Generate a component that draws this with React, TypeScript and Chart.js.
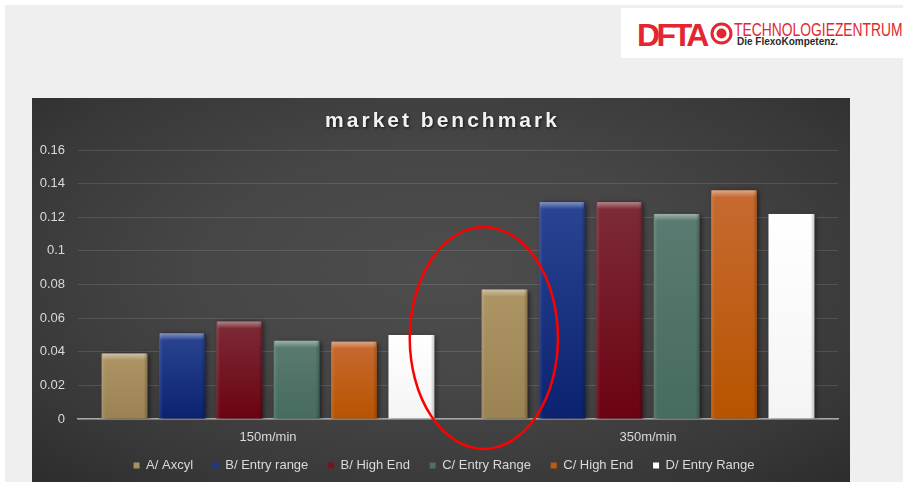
import React, { useEffect, useRef } from "react";
import { Chart, registerables } from "chart.js";

Chart.register(...registerables);

// ---------- data ----------
const chartTitle = "market benchmark";
const categories = ["150m/min", "350m/min"];
const seriesNames = [
  "A/ Axcyl",
  "B/ Entry range",
  "B/ High End",
  "C/ Entry Range",
  "C/ High End",
  "D/ Entry Range",
];
const axcyl = [0.039, 0.077];
const bEntryRange = [0.051, 0.129];
const bHighEnd = [0.058, 0.129];
const cEntryRange = [0.0465, 0.122];
const cHighEnd = [0.046, 0.136];
const dEntryRange = [0.05, 0.122];
const yTickValues = [0, 0.02, 0.04, 0.06, 0.08, 0.1, 0.12, 0.14, 0.16];
const seriesValues = [axcyl, bEntryRange, bHighEnd, cEntryRange, cHighEnd, dEntryRange];

// highlight ellipse (in category-index / value units)
const highlightCenterIndex = 0.568;
const highlightCenterValue = 0.0482;
const highlightRadiusIndex = 0.195;
const highlightRadiusValue = 0.066;

// ---------- styles ----------
const FONT = '"Liberation Sans", Arial, Helvetica, sans-serif';
const topColors = ["#ae9565", "#2a4593", "#7d2c37", "#5a7b71", "#c66a31", "#ffffff"];
const bottomColors = ["#9a8252", "#0b2270", "#6b0213", "#466b5f", "#b85400", "#f4f4f4"];
const legendColors = ["#a89060", "#1d3888", "#7a1020", "#4f7066", "#c05a10", "#ffffff"];

const shadowPlugin = {
  id: "barShadow",
  beforeDatasetDraw(chart: any) {
    const c = chart.ctx;
    c.save();
    c.shadowColor = "rgba(0,0,0,0.55)";
    c.shadowBlur = 5;
    c.shadowOffsetX = 2;
    c.shadowOffsetY = 1;
  },
  afterDatasetDraw(chart: any) {
    chart.ctx.restore();
  },
};

const decorPlugin = {
  id: "decor",
  afterDatasetsDraw(chart: any) {
    const c = chart.ctx;
    chart.data.datasets.forEach((_ds: any, di: number) => {
      const meta = chart.getDatasetMeta(di);
      meta.data.forEach((bar: any) => {
        const { x, y, base, width } = bar.getProps(["x", "y", "base", "width"], true);
        const l = x - width / 2;
        const r = x + width / 2;
        const h = base - y;
        c.save();
        const g = c.createLinearGradient(0, y, 0, y + 7);
        g.addColorStop(0, "rgba(255,255,255,0.42)");
        g.addColorStop(1, "rgba(255,255,255,0)");
        c.fillStyle = g;
        c.fillRect(l + 1, y, width - 2, Math.min(7, h));
        const gl = c.createLinearGradient(l, 0, l + 4, 0);
        gl.addColorStop(0, "rgba(255,255,255,0.12)");
        gl.addColorStop(1, "rgba(255,255,255,0)");
        c.fillStyle = gl;
        c.fillRect(l, y, 4, h);
        const gr = c.createLinearGradient(r - 4, 0, r, 0);
        gr.addColorStop(0, "rgba(0,0,0,0)");
        gr.addColorStop(1, "rgba(0,0,0,0.22)");
        c.fillStyle = gr;
        c.fillRect(r - 4, y, 4, h);
        c.restore();
      });
    });
    // red highlight ellipse
    const xs = chart.scales.x;
    const ys = chart.scales.y;
    const p0 = xs.getPixelForValue(0);
    const p1 = xs.getPixelForValue(1);
    const step = p1 - p0;
    const cx = p0 + step * highlightCenterIndex;
    const rx = step * highlightRadiusIndex;
    const cy = ys.getPixelForValue(highlightCenterValue);
    const ry = Math.abs(ys.getPixelForValue(highlightCenterValue + highlightRadiusValue) - cy);
    c.save();
    c.beginPath();
    c.ellipse(cx, cy, rx, ry, 0, 0, Math.PI * 2);
    c.strokeStyle = "#ff0000";
    c.lineWidth = 2.5;
    c.stroke();
    c.restore();
  },
  afterDraw(chart: any) {
    const c = chart.ctx;
    c.save();
    c.font = `bold 21px ${FONT}`;
    (c as any).letterSpacing = "3px";
    c.fillStyle = "#f2f2f2";
    c.textAlign = "center";
    c.textBaseline = "alphabetic";
    c.shadowColor = "rgba(0,0,0,0.7)";
    c.shadowBlur = 3;
    c.shadowOffsetX = 1;
    c.shadowOffsetY = 1;
    c.fillText(chartTitle, chart.width / 2 + 1.5, 29);
    c.restore();
  },
};

export default function App() {
  const canvasRef = useRef<HTMLCanvasElement | null>(null);

  useEffect(() => {
    if (!canvasRef.current) return;
    const datasets = seriesNames.map((name, i) => ({
      label: name,
      data: seriesValues[i],
      yAxisID: "y",
      backgroundColor: (ctx: any) => {
        const chart = ctx.chart;
        if (!chart.chartArea || ctx.type !== "data") return legendColors[i];
        const ys = chart.scales.y;
        const top = ys.getPixelForValue(ctx.raw);
        const bottom = ys.getPixelForValue(0);
        if (!isFinite(top) || !isFinite(bottom) || top === bottom) return legendColors[i];
        const g = chart.ctx.createLinearGradient(0, top, 0, bottom);
        g.addColorStop(0, topColors[i]);
        g.addColorStop(1, bottomColors[i]);
        return g;
      },
      borderWidth: 0,
      barPercentage: 0.8,
      categoryPercentage: 0.906,
    }));

    const chart = new Chart(canvasRef.current, {
      type: "bar",
      data: { labels: categories, datasets },
      plugins: [shadowPlugin, decorPlugin],
      options: {
        responsive: false,
        animation: false,
        layout: { padding: { top: 52, right: 0, left: 6, bottom: 0 } },
        plugins: {
          title: { display: false },
          tooltip: { enabled: false },
          legend: {
            display: true,
            position: "bottom",
            labels: {
              color: "#d9d9d9",
              font: { family: FONT, size: 13 },
              boxWidth: 6,
              boxHeight: 6,
              padding: 12.5,
              generateLabels: () =>
                seriesNames.map((name, i) => ({
                  text: i < seriesNames.length - 1 ? name + "  " : name,
                  fillStyle: legendColors[i],
                  strokeStyle: legendColors[i],
                  lineWidth: 0,
                  hidden: false,
                  datasetIndex: i,
                  fontColor: "#d9d9d9",
                })),
            },
          },
        },
        scales: {
          x: {
            grid: { display: false, drawTicks: false },
            border: { display: true, color: "#a8a8a8", width: 1.5 },
            ticks: { color: "#d9d9d9", font: { family: FONT, size: 13 }, padding: 11 },
            afterFit: (s: any) => {
              s.height = 27.5;
            },
          },
          y: {
            min: 0,
            max: 0.16,
            grid: { color: "rgba(255,255,255,0.12)", drawTicks: false },
            border: { display: false },
            afterBuildTicks: (s: any) => {
              s.ticks = yTickValues.map((v) => ({ value: v }));
            },
            ticks: {
              color: "#d9d9d9",
              font: { family: FONT, size: 13 },
              padding: 13,
              callback: (v: any) => String(Number(Number(v).toFixed(2))),
            },
            afterFit: (s: any) => {
              s.width = 40;
            },
          },
          yRightSpacer: {
            type: "linear",
            position: "right",
            display: true,
            grid: { display: false, drawTicks: false },
            border: { display: false },
            ticks: { display: false },
            afterFit: (s: any) => {
              s.width = 12;
            },
          },
        },
      },
    } as any);
    return () => chart.destroy();
  }, []);

  return (
    <div
      style={{
        position: "fixed",
        left: 0,
        top: 0,
        width: 903,
        height: 482,
        overflow: "hidden",
        background: "#ffffff",
        fontFamily: FONT,
      }}
    >
      <div style={{ position: "absolute", left: 5, top: 5, right: 0, bottom: 0, background: "#efefef" }} />
      <div
        style={{
          position: "absolute",
          left: 621,
          top: 8,
          width: 282,
          height: 50,
          background: "#ffffff",
          overflow: "hidden",
        }}
      >
        <span
          style={{
            position: "absolute",
            left: 16,
            top: 11,
            fontSize: 32,
            lineHeight: "32px",
            fontWeight: 700,
            letterSpacing: -3.5,
            color: "#e3262f",
            whiteSpace: "nowrap",
          }}
        >
          DFTA
        </span>
        <svg style={{ position: "absolute", left: 89, top: 14 }} width={23} height={23} viewBox="0 0 23 23">
          <circle cx={11.5} cy={11.5} r={9.5} fill="none" stroke="#e3262f" strokeWidth={3} />
          <circle cx={11.5} cy={11.5} r={5} fill="#e3262f" />
        </svg>
        <span
          style={{
            position: "absolute",
            left: 113,
            top: 12.5,
            fontSize: 18,
            lineHeight: "18px",
            color: "#e3262f",
            whiteSpace: "nowrap",
            transform: "scaleX(0.77)",
            transformOrigin: "left top",
          }}
        >
          TECHNOLOGIEZENTRUM
        </span>
        <span
          style={{
            position: "absolute",
            left: 116,
            top: 28.5,
            fontSize: 10,
            lineHeight: "10px",
            fontWeight: 700,
            color: "#2a2a2a",
            whiteSpace: "nowrap",
          }}
        >
          Die FlexoKompetenz.
        </span>
      </div>
      <div
        style={{
          position: "absolute",
          left: 32,
          top: 98,
          width: 818,
          height: 384,
          background:
            "radial-gradient(ellipse 75% 80% at 50% 45%, #4d4d4d 0%, #464646 40%, #383838 75%, #2a2a2a 100%)",
        }}
      >
        <canvas ref={canvasRef} width={818} height={384} style={{ display: "block" }} />
      </div>
    </div>
  );
}
